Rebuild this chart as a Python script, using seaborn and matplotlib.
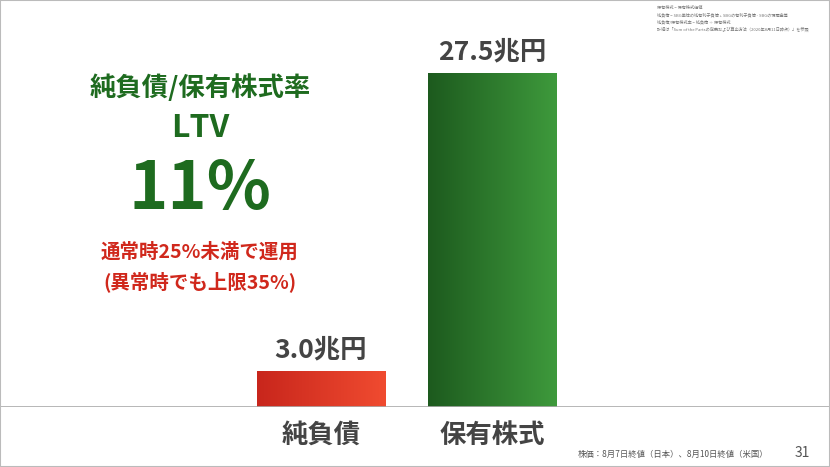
import numpy as np
import pandas as pd
import seaborn as sns
import matplotlib.pyplot as plt
from matplotlib.colors import LinearSegmentedColormap

categories = ['純負債', '保有株式']
values = [3.0, 27.5]
value_labels = ['3.0兆円', '27.5兆円']
notes = ['保有株式 = 保有株式価値',
         '純負債 = SBG単体の純有利子負債 + SBGの有利子負債 - SBGの現預金等',
         '純負債/保有株式率 = 純負債 ÷ 保有株式',
         '詳細は「Sum of the Partsの定義および算出方法（2020年8月11日時点）」を参照']

sns.set_theme(style='white')
plt.rcParams['font.family'] = ['Noto Sans CJK JP', 'DejaVu Sans']

fig = plt.figure(figsize=(8.3, 4.67), dpi=100)
ax = fig.add_axes([0, 60 / 467, 1, 407 / 467])
df = pd.DataFrame({'cat': categories, 'val': values})
sns.barplot(data=df, x='cat', y='val', ax=ax, width=0.75, color='white', saturation=1)
ax.set_xlim(-321 / 171, (830 - 321) / 171)
ax.set_ylim(0, 33.5)

cmaps = [LinearSegmentedColormap.from_list('r', ['#c8261c', '#f04b30']),
         LinearSegmentedColormap.from_list('g', ['#1d5a1e', '#3e9a3c'])]
grad = np.linspace(0, 1, 256).reshape(1, -1)
for bar, cm, lab in zip(ax.patches, cmaps, value_labels):
    x0, w, h = bar.get_x(), bar.get_width(), bar.get_height()
    im = ax.imshow(grad, cmap=cm, extent=[x0, x0 + w, 0, h], aspect='auto', zorder=3)
    im.set_clip_path(bar)
    bar.set_edgecolor('none')
    ax.text(x0 + w / 2, h + 0.6, lab, ha='center', va='bottom', fontsize=19,
            fontweight='bold', color='#444444')
ax.set_xlim(-321 / 171, (830 - 321) / 171)
ax.set_ylim(0, 33.5)

ax.axhline(0, color='#aaaaaa', lw=1.2, zorder=4)
ax.set_xticks([])
ax.set_yticks([])
ax.set_xlabel('')
ax.set_ylabel('')
for s in ax.spines.values():
    s.set_visible(False)

for i, c in enumerate(categories):
    fig.text((321 + 171 * i) / 830, 1 - 435 / 467, c, ha='center', va='center',
             fontsize=19, fontweight='bold', color='#444444')

fig.text(200 / 830, 1 - 88 / 467, '純負債/保有株式率', ha='center', va='center',
         fontsize=19, fontweight='bold', color='#1e6b1f')
fig.text(200 / 830, 1 - 128 / 467, 'LTV', ha='center', va='center',
         fontsize=23, fontweight='bold', color='#1e6b1f')
fig.text(200 / 830, 1 - 190 / 467, '11%', ha='center', va='center',
         fontsize=48, fontweight='bold', color='#1e6b1f')
fig.text(200 / 830, 1 - 252 / 467, '通常時25%未満で運用', ha='center', va='center',
         fontsize=14, fontweight='bold', color='#d0281c')
fig.text(200 / 830, 1 - 282 / 467, '(異常時でも上限35%)', ha='center', va='center',
         fontsize=14, fontweight='bold', color='#d0281c')

for i, n in enumerate(notes):
    fig.text(657 / 830, 1 - (8 + 7 * i) / 467, n, ha='left', va='center',
             fontsize=3, color='#777777')

fig.text(768 / 830, 1 - 454 / 467, '株価：8月7日終値（日本）、8月10日終値（米国）', ha='right',
         va='center', fontsize=6, color='#555555')
fig.text(810 / 830, 1 - 453 / 467, '31', ha='right', va='center', fontsize=10, color='#555555')

fig.patches.append(plt.Rectangle((0, 0), 1, 1, transform=fig.transFigure, fill=False,
                                 edgecolor='#bbbbbb', lw=1.5))
fig.savefig('out.png', dpi=100)
